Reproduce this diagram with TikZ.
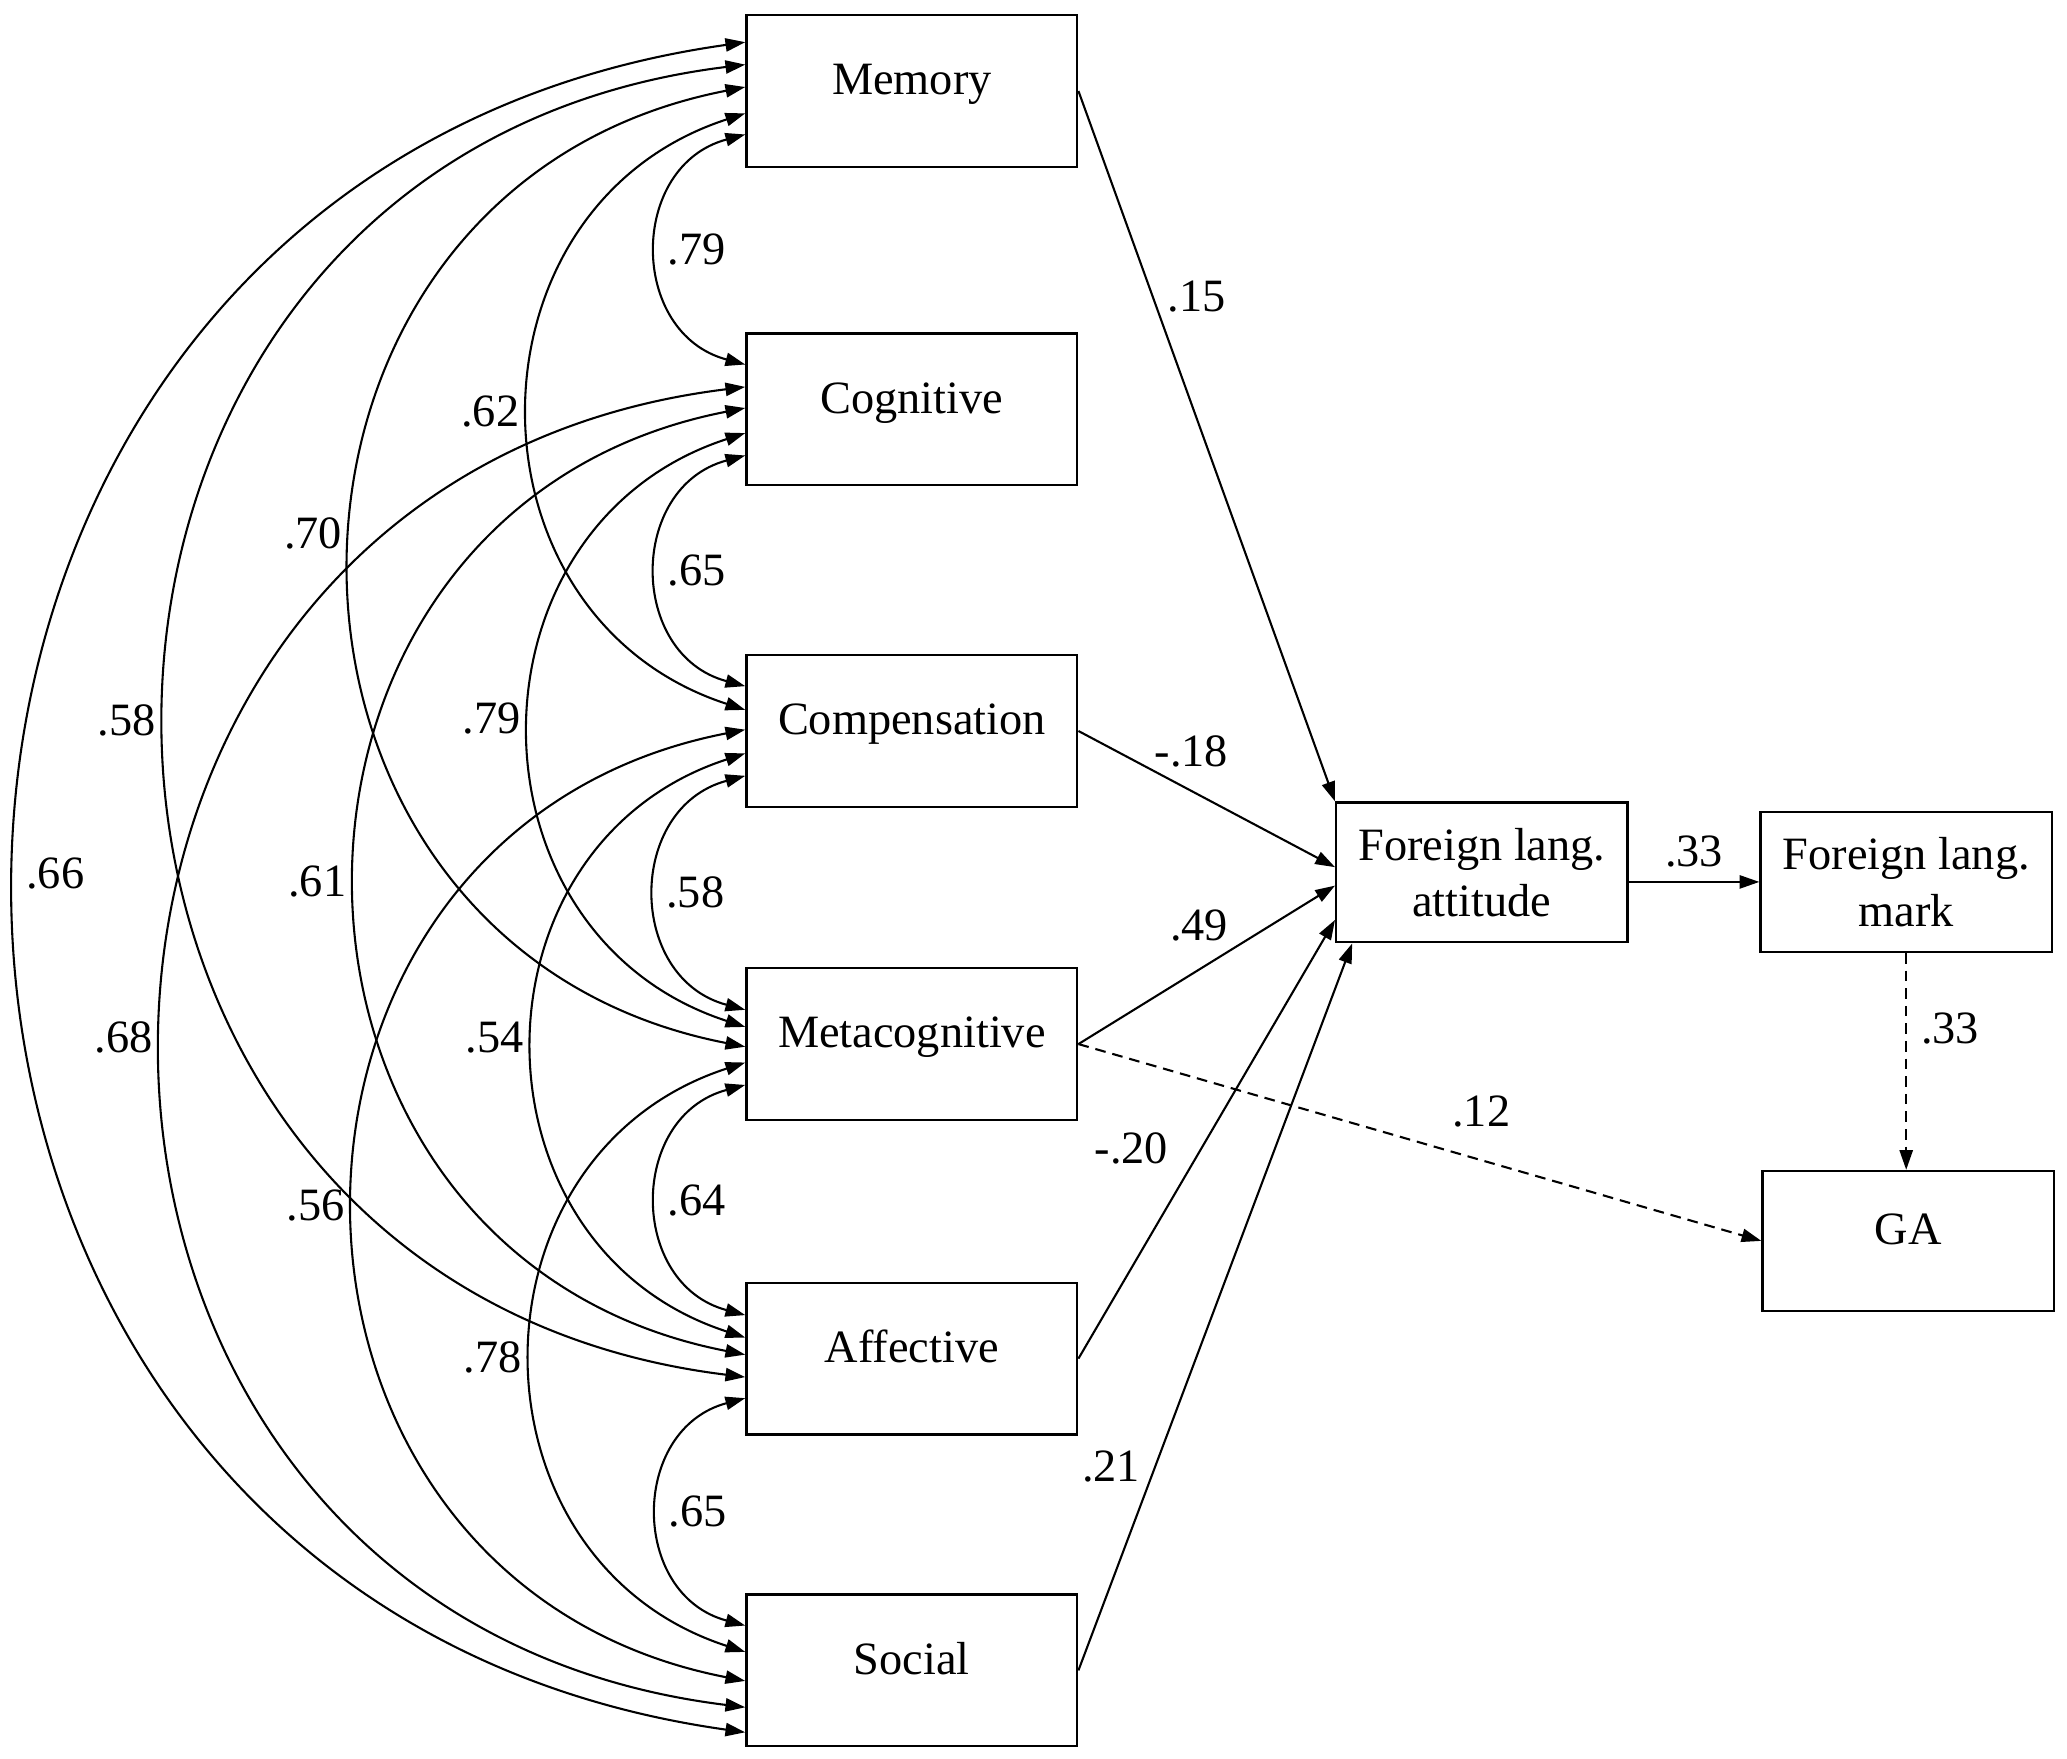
\documentclass[tikz,border=0pt]{standalone}
\usepackage{fontspec}
\setmainfont{Liberation Serif}
\usetikzlibrary{arrows.meta}
\tikzset{
	>={Triangle[length=1.5mm,width=1mm]},
	var/.style={draw, line width=0.5pt, minimum width=2.51cm, minimum height=1.15cm, inner sep=0pt, text height=6.8pt, text depth=5.2pt, font=\fontsize{10}{12.2}\selectfont},
	outc/.style={draw, line width=0.5pt, minimum width=2.21cm, minimum height=1.06cm, inner sep=0pt, align=center, font=\fontsize{10}{12.2}\selectfont},
	coef/.style={font=\fontsize{10}{12}\selectfont, inner sep=2pt},
	cv/.style={<->, line width=0.45pt},
	pth/.style={->, line width=0.45pt},
	dashd/.style={dash pattern=on 2.3pt off 1.5pt},
	span1/.style={out=195, in=165, looseness=1.35},
	span2/.style={out=198, in=162, looseness=1.30},
	span3/.style={out=191, in=169, looseness=1.43},
	span4/.style={out=187, in=173, looseness=1.52},
	span5/.style={out=188, in=172, looseness=1.49}
}

\begin{document}
\begin{tikzpicture}
			%%%%% START %%%%%
			\useasboundingbox (0, 0) rectangle (15.68, -13.343);
			
			\node[var] (mem) at (6.917, -0.690) {Memory};
			\node[var] (cog) at (6.917, -3.105) {Cognitive};
			\node[var] (comp) at (6.917, -5.545) {Compensation};
			\node[var] (meta) at (6.917, -7.920) {Metacognitive};
			\node[var] (aff) at (6.917, -10.306) {Affective};
			\node[var] (soc) at (6.917, -12.671) {Social};
			
			\node[outc] (fla) at (11.241, -6.618) {Foreign lang.\\attitude};
			\node[outc] (flm) at (14.460, -6.690) {Foreign lang.\\mark};
			\node[outc, text height=6.8pt, text depth=5.2pt] (ga) at (14.475, -9.413) {GA};
			
			% neighbours
			\draw[cv] ([yshift=-0.33cm]mem.west) to[span1] node[coef, pos=0.5, right] {.79} ([yshift=0.34cm]cog.west);
			\draw[cv] ([yshift=-0.35cm]cog.west) to[span1] node[coef, pos=0.5, right] {.65} ([yshift=0.34cm]comp.west);
			\draw[cv] ([yshift=-0.34cm]comp.west) to[span1] node[coef, pos=0.5, right] {.58} ([yshift=0.26cm]meta.west);
			\draw[cv] ([yshift=-0.31cm]meta.west) to[span1] node[coef, pos=0.5, right] {.64} ([yshift=0.33cm]aff.west);
			\draw[cv] ([yshift=-0.30cm]aff.west) to[span1] node[coef, pos=0.5, right] {.65} ([yshift=0.34cm]soc.west);
			
			% two apart
			\draw[cv] ([yshift=-0.17cm]mem.west) to[span2] node[coef, pos=0.5, left] {.62} ([yshift=0.16cm]comp.west);
			\draw[cv] ([yshift=-0.18cm]cog.west) to[span2] node[coef, pos=0.485, left] {.79} ([yshift=0.13cm]meta.west);
			\draw[cv] ([yshift=-0.17cm]comp.west) to[span2] node[coef, pos=0.49, left] {.54} ([yshift=0.16cm]aff.west);
			\draw[cv] ([yshift=-0.14cm]meta.west) to[span2] node[coef, pos=0.5, left] {.78} ([yshift=0.14cm]soc.west);
			
			% three apart
			\draw[cv] ([yshift=0.03cm]mem.west) to[span3] node[coef, pos=0.474, left] {.70} ([yshift=-0.02cm]meta.west);
			\draw[cv] ([yshift=0.01cm]cog.west) to[span3] node[coef, pos=0.5, left] {.61} ([yshift=0.03cm]aff.west);
			\draw[cv] ([yshift=0.01cm]comp.west) to[span3] node[coef, pos=0.5, left] {.56} ([yshift=-0.08cm]soc.west);
			
			% four and five apart
			\draw[cv] ([yshift=0.20cm]mem.west) to[span4] node[coef, pos=0.5, left] {.58} ([yshift=-0.14cm]aff.west);
			\draw[cv] ([yshift=0.17cm]cog.west) to[span4] node[coef, pos=0.495, left] {.68} ([yshift=-0.28cm]soc.west);
			\draw[cv] ([yshift=0.37cm]mem.west) to[span5] node[coef, pos=0.494, right] {.66} ([yshift=-0.47cm]soc.west);
			
			% paths
			\draw[pth] (mem.east) -- node[coef, pos=0.29, right=1pt] {.15} (fla.north west);
			\draw[pth] (comp.east) -- node[coef, pos=0.44, above=3pt] {-.18} ([yshift=0.04cm]fla.west);
			\draw[pth] (meta.east) -- node[coef, pos=0.47, above=4pt] {.49} ([yshift=-0.10cm]fla.west);
			\draw[pth] (aff.east) -- node[coef, pos=0.48, left=5pt] {-.20} ([yshift=-0.36cm]fla.west);
			\draw[pth] (soc.east) -- node[coef, pos=0.28, left=1pt] {.21} ([xshift=0.13cm]fla.south west);
			\draw[pth] (fla.east |- flm.west) -- node[coef, above=1pt] {.33} (flm.west);
			\draw[pth, dashd] (flm.south) -- node[coef, pos=0.35, right=1pt] {.33} (flm.south |- ga.north);
			\draw[pth, dashd] (meta.east) -- node[coef, pos=0.59, above=5pt] {.12} (ga.west);
			
			%%%%% END %%%%%
\end{tikzpicture}
\end{document}
